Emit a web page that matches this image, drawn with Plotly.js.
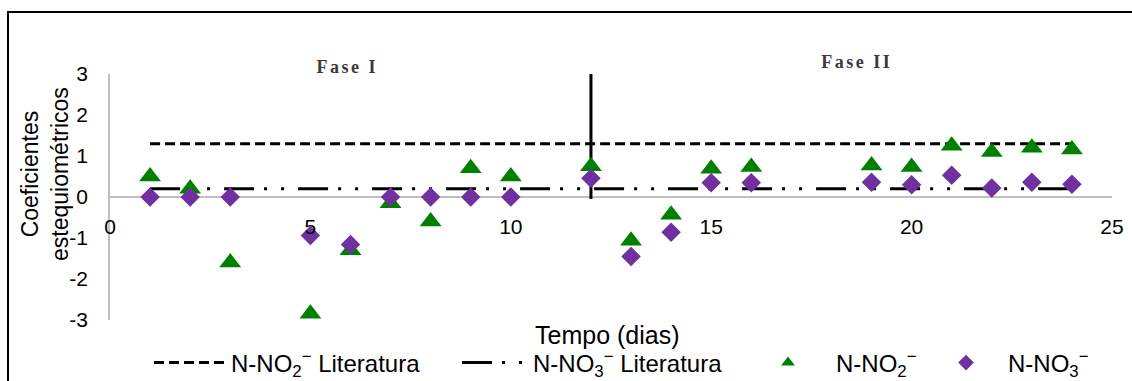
<!DOCTYPE html>
<html>
<head>
<meta charset="utf-8">
<script src="https://cdn.plot.ly/plotly-3.0.1.min.js"></script>
<style>
html,body{margin:0;padding:0;background:#fff;}
#chart{width:1132px;height:381px;}
</style>
</head>
<body>
<div id="chart"></div>
<script>
// ---- data ----
const days = [1, 2, 3, 5, 6, 7, 8, 9, 10, 12, 13, 14, 15, 16, 19, 20, 21, 22, 23, 24];
const no2Coef = [0.5, 0.2, -1.6, -2.85, -1.3, -0.15, -0.6, 0.7, 0.5, 0.75, -1.07, -0.43, 0.69, 0.73, 0.77, 0.73, 1.25, 1.1, 1.2, 1.16];
const no3Coef = [0, 0, 0, -0.94, -1.16, 0, 0, 0, 0, 0.46, -1.45, -0.86, 0.35, 0.35, 0.36, 0.3, 0.53, 0.22, 0.36, 0.31];
const literatureDays = [1, 24];
const no2Literature = [1.3, 1.3];
const no3Literature = [0.2, 0.2];
const phaseDividerDay = [12, 12];
const phaseDividerY = [3, -0.05];
const xTicks = [0, 5, 10, 15, 20, 25];
const yTicks = [-3, -2, -1, 0, 1, 2, 3];
const yTickText = ['-3', '-2', '-1', '0', '1', '2', '3'];
const seriesNames = ['N-NO<sub>2</sub><sup>−</sup> Literatura', 'N-NO<sub>3</sub><sup>−</sup> Literatura', 'N-NO<sub>2</sub><sup>−</sup>', 'N-NO<sub>3</sub><sup>−</sup>'];
const phaseLabels = ['Fase I', 'Fase II'];
const axisTitles = ['Tempo (dias)', 'Coeficientes<br>estequiométricos'];

const FONT = 'Arial, "Liberation Sans", sans-serif';
const SERIF = '"Liberation Serif", "Times New Roman", serif';
const W = 1132, H = 381;
const L = 110, R = 20, T = 74, B = 61;
const pw = W - L - R, ph = H - T - B;
const px = v => (v - L) / pw;           // pixel x -> paper
const py = v => (H - B - v) / ph;       // pixel y -> paper

const traces = [
  {x: literatureDays, y: no2Literature, mode: 'lines', name: seriesNames[0], legend: 'legend',
   line: {color: '#000', width: 3, dash: '10px,5px'}},
  {x: literatureDays, y: no3Literature, mode: 'lines', name: seriesNames[1], legend: 'legend2',
   line: {color: '#000', width: 3, dash: '30px,10px,3px,14px,3px,14px'}},
  {x: phaseDividerDay, y: phaseDividerY, mode: 'lines', showlegend: false,
   line: {color: '#000', width: 3}},
  {x: days, y: no2Coef, mode: 'markers', name: seriesNames[2], legend: 'legend3',
   marker: {symbol: 'triangle-up', size: 19, color: '#008000'}},
  {x: days, y: no3Coef, mode: 'markers', name: seriesNames[3], legend: 'legend4',
   marker: {symbol: 'diamond', size: 15, color: '#7030A0'}}
];

const legBase = {orientation: 'h', xref: 'container', yref: 'container', xanchor: 'left', yanchor: 'middle',
  y: 1 - 363 / H, bgcolor: 'rgba(0,0,0,0)', borderwidth: 0, font: {family: FONT, size: 24, color: '#000'}};

const layout = {
  width: W, height: H,
  margin: {l: L, r: R, t: T, b: B, pad: 0},
  paper_bgcolor: '#fff', plot_bgcolor: '#fff',
  font: {family: FONT, color: '#000'},
  xaxis: {range: [0, 25], tickvals: xTicks, showgrid: false, zeroline: false, showline: false,
    ticks: '', anchor: 'free', position: py(196.5), ticklabelstandoff: 15,
    tickfont: {family: FONT, size: 21, color: '#000'}},
  yaxis: {range: [-3, 3], tickvals: yTicks, ticktext: yTickText, showgrid: false, zeroline: true, zerolinecolor: '#BFBFBF',
    zerolinewidth: 1.5, showline: true, linecolor: '#BFBFBF', linewidth: 1.5, ticks: '',
    ticklabelstandoff: 16, tickfont: {family: FONT, size: 21, color: '#000'}},
  legend: Object.assign({}, legBase, {x: 149 / W, itemwidth: 72}),
  legend2: Object.assign({}, legBase, {x: 457 / W, itemwidth: 66}),
  legend3: Object.assign({}, legBase, {x: 740 / W, itemwidth: 86, itemsizing: 'constant'}),
  legend4: Object.assign({}, legBase, {x: 924 / W, itemwidth: 74, itemsizing: 'constant'}),
  shapes: [
    {type: 'rect', xref: 'paper', yref: 'paper', x0: px(8), x1: px(1140), y0: py(390), y1: py(12),
     line: {color: '#000', width: 2}, fillcolor: 'rgba(0,0,0,0)', layer: 'below'}
  ],
  annotations: [
    {text: phaseLabels[0], xref: 'paper', yref: 'paper', x: px(347), y: py(67), showarrow: false,
     xanchor: 'center', yanchor: 'middle', font: {family: SERIF, size: 18, color: '#3a3a3a', weight: 'bold'}},
    {text: phaseLabels[1], xref: 'paper', yref: 'paper', x: px(857), y: py(62), showarrow: false,
     xanchor: 'center', yanchor: 'middle', font: {family: SERIF, size: 18, color: '#3a3a3a', weight: 'bold'}},
    {text: axisTitles[0], xref: 'paper', yref: 'paper', x: px(607), y: py(335), showarrow: false,
     xanchor: 'center', yanchor: 'middle', font: {family: FONT, size: 25, color: '#000'}},
    {text: axisTitles[1], xref: 'paper', yref: 'paper', x: px(45), y: py(174), showarrow: false,
     textangle: -90, xanchor: 'center', yanchor: 'middle', font: {family: FONT, size: 23, color: '#000'}}
  ]
};

Plotly.newPlot('chart', traces, layout, {displayModeBar: false, responsive: false}).then(function (gd) {
  // letter-spaced phase labels as in the original
  const texts = gd.querySelectorAll('.annotation-text');
  for (let i = 0; i < 2 && i < texts.length; i++) {
    texts[i].style.letterSpacing = '2.5px';
  }
});
</script>
</body>
</html>
